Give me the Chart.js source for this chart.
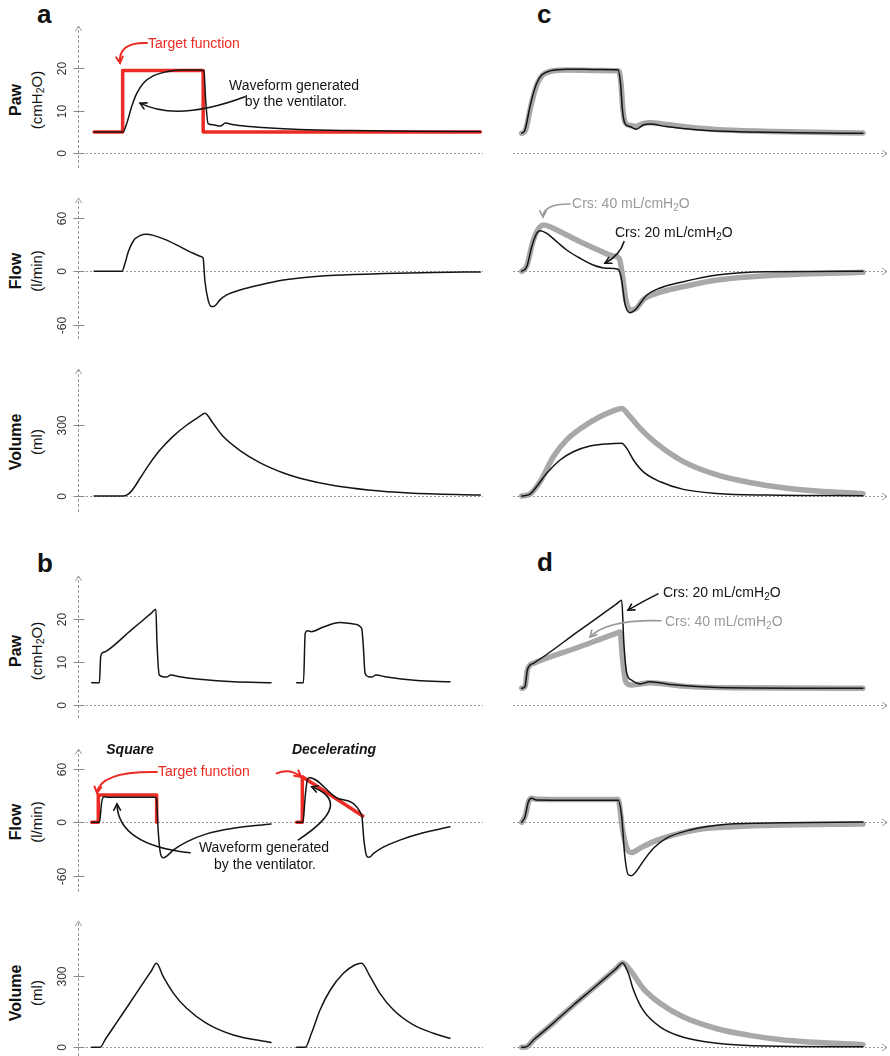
<!DOCTYPE html>
<html lang="en">
<head>
<meta charset="UTF-8">
<title>Ventilator waveforms</title>
<script src="https://cdn.jsdelivr.net/npm/chart.js"></script>
<style>
  body { margin: 0; background: #fff; font-family: "Liberation Sans", Arial, sans-serif; }
  #fig { position: relative; width: 890px; height: 1056px; overflow: hidden; }
  #fig canvas { position: absolute; }
  .letter { position: absolute; font-weight: bold; font-size: 26px; color: #111; line-height: 1; }
  .ytitle { position: absolute; transform: translate(-50%, -50%) rotate(-90deg); white-space: nowrap; color: #111; line-height: 1; }
  .ytitle.main { font-weight: bold; font-size: 16px; }
  .ytitle.unit { font-size: 15px; }
  .ytitle sub { font-size: 0.7em; vertical-align: -0.25em; line-height: 0; }
</style>
</head>
<body>
<div id="fig">
  <div class="letter" style="left:37px;top:1px">a</div>
  <div class="letter" style="left:537px;top:1px">c</div>
  <div class="letter" style="left:37px;top:550px">b</div>
  <div class="letter" style="left:537px;top:549px">d</div>

  <div class="ytitle main" style="left:16px;top:100px">Paw</div>
  <div class="ytitle unit" style="left:36px;top:100px">(cmH<sub>2</sub>O)</div>
  <div class="ytitle main" style="left:16px;top:271px">Flow</div>
  <div class="ytitle unit" style="left:36px;top:271px">(l/min)</div>
  <div class="ytitle main" style="left:16px;top:442px">Volume</div>
  <div class="ytitle unit" style="left:36px;top:442px">(ml)</div>
  <div class="ytitle main" style="left:16px;top:651px">Paw</div>
  <div class="ytitle unit" style="left:36px;top:651px">(cmH<sub>2</sub>O)</div>
  <div class="ytitle main" style="left:16px;top:822px">Flow</div>
  <div class="ytitle unit" style="left:36px;top:822px">(l/min)</div>
  <div class="ytitle main" style="left:16px;top:993px">Volume</div>
  <div class="ytitle unit" style="left:36px;top:993px">(ml)</div>
</div>

<script>
// ---- data (time in s, Paw in cmH2O, flow in l/min, volume in ml) ----

// a: pressure-controlled breath
const aPawTargetT = [-0.34, 0.008, 0.008, 0.99, 0.99, 4.37];
const aPawTargetV = [5, 5, 19.5, 19.5, 5, 5];
const aPawT = [-0.34, 0.01, 0.057, 0.118, 0.18, 0.26, 0.38, 0.545, 0.71, 0.95, 1.0, 1.02, 1.05, 1.11, 1.2, 1.26, 1.36, 1.56, 1.76, 2.17, 2.8, 3.5, 4.37];
const aPawV = [5, 5, 7.0, 11, 14.1, 16.5, 18.2, 19.2, 19.6, 19.6, 19.3, 12.5, 7.0, 6.7, 6.4, 7.1, 6.7, 6.3, 6.0, 5.6, 5.35, 5.2, 5.1];
const aFlowT = [-0.34, 0, 0.037, 0.077, 0.14, 0.22, 0.30, 0.382, 0.545, 0.707, 0.87, 0.97, 0.99, 1.01, 1.05, 1.09, 1.13, 1.195, 1.277, 1.44, 1.68, 1.97, 2.17, 2.6, 3.2, 3.8, 4.37];
const aFlowV = [0, 0, 9, 22, 34.3, 40, 41.5, 40.3, 35, 27.6, 20.2, 16.4, 14.6, -9.8, -32, -39.6, -39, -32, -26.5, -21, -15.4, -9.8, -7.4, -4.5, -2.5, -1.3, -0.7];
const aVolT = [-0.34, 0.016, 0.077, 0.14, 0.22, 0.34, 0.463, 0.626, 0.79, 0.95, 1.01, 1.11, 1.235, 1.44, 1.68, 1.97, 2.17, 2.6, 3.0, 3.5, 4.37];
const aVolV = [0, 0, 8, 32, 75, 138, 194, 253, 300, 337, 350, 307, 251, 192, 141, 97, 75, 43, 25.5, 13, 4.2];

// b: volume-controlled, square and decelerating flow
const bPawSqT = [-0.146, -0.01, 0.012, 0.047, 0.105, 0.55, 0.9, 0.98, 1.0, 1.04, 1.11, 1.17, 1.24, 1.4, 1.75, 2.34, 3.0];
const bPawSqV = [5.2, 5.2, 11.3, 12.2, 12.5, 17.5, 21.4, 22.3, 14.4, 7.0, 6.6, 6.5, 7.0, 6.6, 6.0, 5.4, 5.2];
const bPawDecT = [3.45, 3.57, 3.6, 3.64, 3.71, 3.92, 4.21, 4.44, 4.59, 4.62, 4.65, 4.71, 4.77, 4.84, 5.03, 5.56, 6.14];
const bPawDecV = [5.2, 5.2, 16.7, 17.3, 17.1, 18.2, 19.2, 18.9, 17.9, 13.6, 7.4, 6.6, 6.5, 7.0, 6.5, 5.7, 5.4];
const bFlowSqTargetT = [-0.146, -0.03, -0.03, 0.994, 0.994];
const bFlowSqTargetV = [0, 0, 30.7, 30.7, 0];
const bFlowDecTargetT = [3.45, 3.55, 3.55, 4.61];
const bFlowDecTargetV = [0, 0, 51.3, 7.1];
const bFlowSqT = [-0.146, -0.01, 0.03, 0.07, 0.146, 0.965, 0.99, 1.02, 1.06, 1.11, 1.17, 1.29, 1.52, 1.87, 2.34, 3.0];
const bFlowSqV = [0, 0, 23, 28.8, 28.2, 28.2, 27, -8.7, -35, -40, -38, -31, -22, -13, -6.8, -1.9];
const bFlowDecT = [3.45, 3.56, 3.6, 3.64, 3.68, 4.2, 4.59, 4.63, 4.68, 4.72, 4.8, 4.97, 5.26, 5.67, 6.14];
const bFlowDecV = [0, 0, 28.8, 48.4, 50.2, 26.2, 8.2, -20, -38, -39.4, -35, -28, -20, -11.7, -5];
const bVolSqT = [-0.146, 0, 0.1, 0.3, 0.5, 0.7, 0.9, 0.99, 1.11, 1.29, 1.52, 1.87, 2.34, 3.0];
const bVolSqV = [0, 0, 36, 107, 178, 250, 321, 353, 297, 227, 164, 101, 52, 20];
const bVolDecT = [3.45, 3.6, 3.71, 3.86, 4.04, 4.27, 4.47, 4.59, 4.74, 4.91, 5.15, 5.5, 5.85, 6.14];
const bVolDecV = [0, 0, 59, 157, 241, 311, 346, 353, 297, 227, 157, 94, 59, 38];

// c: pressure control, Crs 20 (black) vs 40 (grey) mL/cmH2O
const cPawT = [-0.034, 0, 0.052, 0.087, 0.122, 0.174, 0.26, 0.434, 0.78, 0.97, 0.995, 1.015, 1.04, 1.094, 1.16, 1.23, 1.30, 1.47, 1.82, 2.17, 2.86, 3.52];
const cPawV = [4.7, 5.5, 11, 14.1, 16.5, 18.4, 19.4, 19.8, 19.7, 19.6, 16.5, 10.2, 7.06, 6.3, 5.65, 6.66, 6.9, 6.3, 5.5, 5.1, 4.85, 4.7];
const cPawGrayT = [-0.034, 0.004, 0.06, 0.095, 0.13, 0.182, 0.268, 0.434, 0.78, 0.975, 1.0, 1.02, 1.045, 1.09, 1.15, 1.23, 1.30, 1.47, 1.82, 2.17, 2.86, 3.52];
const cPawGrayV = [4.7, 5.4, 11, 14.1, 16.5, 18.4, 19.3, 19.6, 19.5, 19.4, 16.5, 10.2, 7.2, 6.6, 6.3, 7.0, 7.2, 6.8, 5.9, 5.4, 5.0, 4.8];
const cFlowT = [-0.034, 0.018, 0.07, 0.122, 0.156, 0.226, 0.33, 0.434, 0.573, 0.71, 0.85, 0.97, 1.007, 1.04, 1.094, 1.146, 1.2, 1.27, 1.4, 1.65, 2.0, 2.52, 3.52];
const cFlowV = [0, 5, 27.6, 42.6, 45.5, 42.6, 33.2, 23.9, 14.6, 7.1, 3.4, 2.2, -9.8, -36, -46.4, -43.4, -36, -26.6, -19, -11.6, -4.1, -0.4, 0];
const cFlowGrayT = [-0.034, 0.018, 0.087, 0.156, 0.2, 0.295, 0.434, 0.607, 0.78, 0.92, 0.98, 1.017, 1.05, 1.1, 1.16, 1.23, 1.37, 1.65, 2.0, 2.52, 3.52];
const cFlowGrayV = [0, 6, 35, 50, 52, 48.2, 40.7, 31.4, 23.1, 17.2, 14.6, -6, -32, -43.4, -41.5, -32, -24.7, -17.2, -9.8, -4.9, -1.2];
const cVolT = [-0.034, 0.052, 0.12, 0.226, 0.365, 0.503, 0.677, 0.85, 1.007, 1.06, 1.13, 1.23, 1.41, 1.65, 2.0, 2.52, 3.52];
const cVolV = [0, 8, 39, 96, 152, 187, 211, 220, 223, 201, 152, 103, 60, 28, 11, 4, 1];
const cVolGrayT = [-0.034, 0.052, 0.156, 0.295, 0.434, 0.607, 0.78, 0.92, 1.007, 1.094, 1.2, 1.37, 1.65, 2.0, 2.34, 2.69, 3.04, 3.52];
const cVolGrayV = [0, 8, 60, 166, 237, 293, 335, 360, 370, 335, 286, 222, 145, 89, 57, 35, 21, 10];

// d: volume control, Crs 20 (black) vs 40 (grey) mL/cmH2O
const dPawT = [-0.034, 0, 0.024, 0.052, 0.087, 0.55, 0.95, 1.007, 1.03, 1.06, 1.11, 1.2, 1.3, 1.55, 2.0, 3.52];
const dPawV = [3.9, 4.3, 8.1, 9.3, 9.7, 17.1, 23.5, 24.4, 14.3, 7.4, 5.8, 4.9, 5.4, 4.7, 4.1, 3.9];
const dPawGrayT = [-0.034, 0, 0.024, 0.052, 0.087, 0.55, 0.95, 0.99, 1.017, 1.05, 1.11, 1.2, 1.3, 1.65, 2.17, 3.52];
const dPawGrayV = [3.9, 4.3, 8.1, 9.3, 9.7, 13.4, 16.7, 17, 10.5, 5.4, 4.65, 4.9, 5.2, 4.4, 4.0, 3.9];
const dFlowT = [-0.034, 0, 0.035, 0.07, 0.12, 0.5, 0.97, 1.007, 1.04, 1.076, 1.11, 1.16, 1.23, 1.34, 1.47, 1.72, 2.1, 2.69, 3.52];
const dFlowV = [0, 6.3, 23, 27, 25, 24.8, 24.7, 6.3, -38.5, -59, -60, -55, -44, -29, -18, -8.6, -2.2, -0.5, 0.3];
const dFlowGrayT = [-0.034, 0.005, 0.04, 0.075, 0.12, 0.5, 0.97, 1.017, 1.06, 1.11, 1.2, 1.34, 1.55, 1.82, 2.17, 2.69, 3.52];
const dFlowGrayV = [0, 8, 24, 27, 26, 25.8, 25.6, -8.6, -29, -34, -29, -21.7, -14.2, -7.8, -4.9, -3, -1.9];
const dVolT = [-0.034, 0, 0.1, 0.3, 0.503, 0.7, 0.85, 0.95, 1.017, 1.076, 1.13, 1.23, 1.41, 1.65, 2.0, 2.52, 3.52];
const dVolV = [0, 0, 35, 104, 177, 244, 296, 331, 354, 311, 241, 156, 85, 42, 17, 5, 2];
const dVolGrayT = [-0.034, 0, 0.1, 0.3, 0.503, 0.7, 0.85, 0.95, 1.017, 1.094, 1.23, 1.41, 1.65, 2.0, 2.34, 2.69, 3.52];
const dVolGrayV = [0, 0, 35, 104, 177, 244, 296, 331, 354, 325, 248, 184, 127, 78, 50, 31, 11];

// tick labels
const pawTicks = [0, 10, 20];
const flowTicks = [-60, 0, 60];
const volTicks = [0, 300];

// ---- styling / layout ----
const RED = '#ec2b24', BLACK = '#141414', GRAY = '#a8a8a8', GRAY_TXT = '#999999', AXIS = '#9a9a9a';
const FONT = '"Liberation Sans", Arial, sans-serif';

const COLS = {
  left:  { left: 0,   width: 500, padL: 78, padR: 16 },
  right: { left: 500, width: 390, padL: 13, padR: 2 }
};
const ROWS = [
  { top: 0,   height: 178, padT: 25, padB: 10, y: [-3.46, 30.19] },
  { top: 178, height: 165, padT: 19, padB: 4,  y: [-75.9, 83.3] },
  { top: 343, height: 175, padT: 25, padB: 6,  y: [-67.6, 540.8] },
  { top: 550, height: 172, padT: 25, padB: 4,  y: [-3.03, 30.3] },
  { top: 722, height: 174, padT: 26, padB: 4,  y: [-78.4, 83.6] },
  { top: 896, height: 160, padT: 24, padB: 0,  y: [-36.6, 535.3] }
];
const X_A = [-0.5366, 4.4146], X_B = [-0.386, 6.737], X_CD = [-0.125, 3.781];

function pts(ts, vs) { return ts.map((t, i) => ({ x: t, y: vs[i] })); }

function line(ts, vs, kind) {
  const st = {
    black: { c: BLACK, w: 1.5, order: 0, smooth: true },
    gray:  { c: GRAY,  w: 5.5, order: 2, smooth: true },
    red:   { c: RED,   w: 3.5, order: 1, smooth: false }
  }[kind];
  return {
    data: pts(ts, vs),
    borderColor: st.c,
    borderWidth: st.w,
    pointRadius: 0,
    fill: false,
    order: st.order,
    borderCapStyle: 'round',
    borderJoinStyle: 'round',
    cubicInterpolationMode: st.smooth ? 'monotone' : 'default',
    tension: 0,
    clip: false
  };
}

// rich text with "_x" meaning subscript x
function drawRich(ctx, str, x, y, size, align, color, style) {
  const parts = [];
  let buf = '';
  for (let i = 0; i < str.length; i++) {
    if (str[i] === '_') {
      if (buf) parts.push([buf, false]);
      buf = '';
      parts.push([str[i + 1], true]);
      i++;
    } else buf += str[i];
  }
  if (buf) parts.push([buf, false]);
  const fMain = `${style || ''} ${size}px ${FONT}`;
  const fSub = `${style || ''} ${Math.round(size * 0.72)}px ${FONT}`;
  let w = 0;
  parts.forEach(p => { ctx.font = p[1] ? fSub : fMain; w += ctx.measureText(p[0]).width; });
  let cx = align === 'center' ? x - w / 2 : align === 'right' ? x - w : x;
  ctx.textBaseline = 'middle';
  ctx.textAlign = 'left';
  ctx.fillStyle = color;
  parts.forEach(p => {
    ctx.font = p[1] ? fSub : fMain;
    ctx.fillText(p[0], cx, p[1] ? y + size * 0.3 : y);
    cx += ctx.measureText(p[0]).width;
  });
}

function head(ctx, x, y, ang, len, spread) {
  ctx.beginPath();
  ctx.moveTo(x - len * Math.cos(ang - spread), y - len * Math.sin(ang - spread));
  ctx.lineTo(x, y);
  ctx.lineTo(x - len * Math.cos(ang + spread), y - len * Math.sin(ang + spread));
  ctx.stroke();
}

const ventPlugin = {
  id: 'vent',
  beforeDatasetsDraw(chart, args, o) {
    const { ctx, chartArea: ca, scales: { x, y } } = chart;
    ctx.save();
    ctx.strokeStyle = AXIS;
    ctx.lineWidth = 1;
    // zero line
    const y0 = Math.round(y.getPixelForValue(0)) + 0.5;
    ctx.setLineDash([2, 2]);
    ctx.beginPath();
    ctx.moveTo(ca.left, y0);
    ctx.lineTo(ca.right - 1, y0);
    ctx.stroke();
    ctx.setLineDash([]);
    if (o.arrowRight) head(ctx, ca.right - 1, y0, 0, 6, 0.6);
    // y axis
    if (o.ticks) {
      const ax = Math.round(ca.left) + 0.5;
      ctx.setLineDash([3, 2]);
      ctx.beginPath();
      ctx.moveTo(ax, ca.bottom);
      ctx.lineTo(ax, ca.top + 1);
      ctx.stroke();
      ctx.setLineDash([]);
      head(ctx, ax, ca.top + 1, -Math.PI / 2, 6, 0.55);
      o.ticks.forEach(v => {
        const ty = Math.round(y.getPixelForValue(v)) + 0.5;
        ctx.strokeStyle = '#8a8a8a';
        ctx.beginPath();
        ctx.moveTo(ax - 5, ty);
        ctx.lineTo(ax + 6, ty);
        ctx.stroke();
        ctx.save();
        ctx.translate(ax - 16, ty);
        ctx.rotate(-Math.PI / 2);
        ctx.font = `12px ${FONT}`;
        ctx.fillStyle = '#333';
        ctx.textAlign = 'center';
        ctx.textBaseline = 'middle';
        ctx.fillText(String(v), 0, 0);
        ctx.restore();
      });
    }
    ctx.restore();
  },
  afterDatasetsDraw(chart, args, o) {
    const { ctx, scales: { x, y } } = chart;
    ctx.save();
    (o.notes || []).forEach(n => {
      if (n.arrow) {
        const p = n.arrow.map(q => [x.getPixelForValue(q[0]), y.getPixelForValue(q[1])]);
        ctx.strokeStyle = n.color || BLACK;
        ctx.lineWidth = n.width || 1.6;
        ctx.lineCap = 'round';
        ctx.beginPath();
        ctx.moveTo(p[0][0], p[0][1]);
        ctx.quadraticCurveTo(p[1][0], p[1][1], p[2][0], p[2][1]);
        ctx.stroke();
        const ang = Math.atan2(p[2][1] - p[1][1], p[2][0] - p[1][0]);
        head(ctx, p[2][0], p[2][1], ang, 7, 0.5);
      } else {
        drawRich(ctx, n.text, x.getPixelForValue(n.x), y.getPixelForValue(n.y),
          n.size || 14, n.align || 'left', n.color || BLACK, n.style);
      }
    });
    ctx.restore();
  }
};

function makeChart(col, rowIdx, xr, datasets, extra) {
  const c = COLS[col], r = ROWS[rowIdx];
  const cv = document.createElement('canvas');
  cv.width = c.width;
  cv.height = r.height;
  cv.style.left = c.left + 'px';
  cv.style.top = r.top + 'px';
  document.getElementById('fig').appendChild(cv);
  return new Chart(cv, {
    type: 'line',
    data: { datasets },
    options: {
      responsive: false,
      animation: false,
      events: [],
      layout: { padding: { left: c.padL, right: c.padR, top: r.padT, bottom: r.padB } },
      scales: {
        x: { type: 'linear', min: xr[0], max: xr[1], display: false },
        y: { type: 'linear', min: r.y[0], max: r.y[1], display: false }
      },
      plugins: { legend: { display: false }, tooltip: { enabled: false }, vent: extra }
    },
    plugins: [ventPlugin]
  });
}

// ---- panel a ----
makeChart('left', 0, X_A, [
  line(aPawT, aPawV, 'black'),
  line(aPawTargetT, aPawTargetV, 'red')
], {
  ticks: pawTicks,
  notes: [
    { text: 'Target function', x: 0.317, y: 25.7, color: RED },
    { arrow: [[0.305, 25.95], [-0.049, 26.2], [-0.024, 21.25]], color: RED, width: 2 },
    { text: 'Waveform generated', x: 2.098, y: 15.8, align: 'center' },
    { text: 'by the ventilator.', x: 2.12, y: 12.07, align: 'center' },
    { arrow: [[1.5, 13.3], [0.677, 7.36], [0.22, 11.8]] }
  ]
});
makeChart('left', 1, X_A, [line(aFlowT, aFlowV, 'black')], { ticks: flowTicks });
makeChart('left', 2, X_A, [line(aVolT, aVolV, 'black')], { ticks: volTicks });

// ---- panel c ----
makeChart('right', 0, X_CD, [
  line(cPawT, cPawV, 'black'),
  line(cPawGrayT, cPawGrayV, 'gray')
], { arrowRight: true });
makeChart('right', 1, X_CD, [
  line(cFlowT, cFlowV, 'black'),
  line(cFlowGrayT, cFlowGrayV, 'gray')
], {
  arrowRight: true,
  notes: [
    { text: 'Crs: 40 mL/cmH_2O', x: 0.49, y: 75.4, color: GRAY_TXT },
    { arrow: [[0.469, 75.4], [0.1875, 75.6], [0.1875, 60.9]], color: GRAY_TXT },
    { text: 'Crs: 20 mL/cmH_2O', x: 0.9375, y: 42.9 },
    { arrow: [[1.031, 33.2], [0.99, 18.3], [0.833, 9]] }
  ]
});
makeChart('right', 2, X_CD, [
  line(cVolT, cVolV, 'black'),
  line(cVolGrayT, cVolGrayV, 'gray')
], { arrowRight: true });

// ---- panel b ----
makeChart('left', 3, X_B, [
  line(bPawSqT, bPawSqV, 'black'),
  line(bPawDecT, bPawDecV, 'black')
], { ticks: pawTicks });
makeChart('left', 4, X_B, [
  line(bFlowSqT, bFlowSqV, 'black'),
  line(bFlowDecT, bFlowDecV, 'black'),
  line(bFlowSqTargetT, bFlowSqTargetV, 'red'),
  line(bFlowDecTargetT, bFlowDecTargetV, 'red')
], {
  ticks: flowTicks,
  notes: [
    { text: 'Square', x: 0.526, y: 81.3, align: 'center', style: 'italic bold' },
    { text: 'Decelerating', x: 4.105, y: 81.3, align: 'center', style: 'italic bold' },
    { text: 'Target function', x: 1.018, y: 56.6, color: RED },
    { arrow: [[1.0, 56.6], [0, 57.7], [-0.053, 33]], color: RED, width: 2 },
    { arrow: [[3.1, 55.1], [3.333, 61.2], [3.526, 51]], color: RED, width: 2 },
    { text: 'Waveform generated', x: 2.877, y: -28.7, align: 'center' },
    { text: 'by the ventilator.', x: 2.895, y: -47.9, align: 'center' },
    { arrow: [[1.579, -34.3], [0.316, -25.5], [0.298, 20.6]] },
    { arrow: [[3.48, -19.7], [4.474, 22], [3.714, 40]] }
  ]
});
makeChart('left', 5, X_B, [
  line(bVolSqT, bVolSqV, 'black'),
  line(bVolDecT, bVolDecV, 'black')
], { ticks: volTicks });

// ---- panel d ----
makeChart('right', 3, X_CD, [
  line(dPawT, dPawV, 'black'),
  line(dPawGrayT, dPawGrayV, 'gray')
], {
  arrowRight: true,
  notes: [
    { text: 'Crs: 20 mL/cmH_2O', x: 1.4375, y: 26.1 },
    { arrow: [[1.385, 25.9], [1.229, 24.2], [1.073, 22.1]] },
    { text: 'Crs: 40 mL/cmH_2O', x: 1.458, y: 19.3, color: GRAY_TXT },
    { arrow: [[1.417, 19.65], [0.854, 20.0], [0.677, 15.85]], color: GRAY_TXT }
  ]
});
makeChart('right', 4, X_CD, [
  line(dFlowT, dFlowV, 'black'),
  line(dFlowGrayT, dFlowGrayV, 'gray')
], { arrowRight: true });
makeChart('right', 5, X_CD, [
  line(dVolT, dVolV, 'black'),
  line(dVolGrayT, dVolGrayV, 'gray')
], { arrowRight: true });
</script>
</body>
</html>
